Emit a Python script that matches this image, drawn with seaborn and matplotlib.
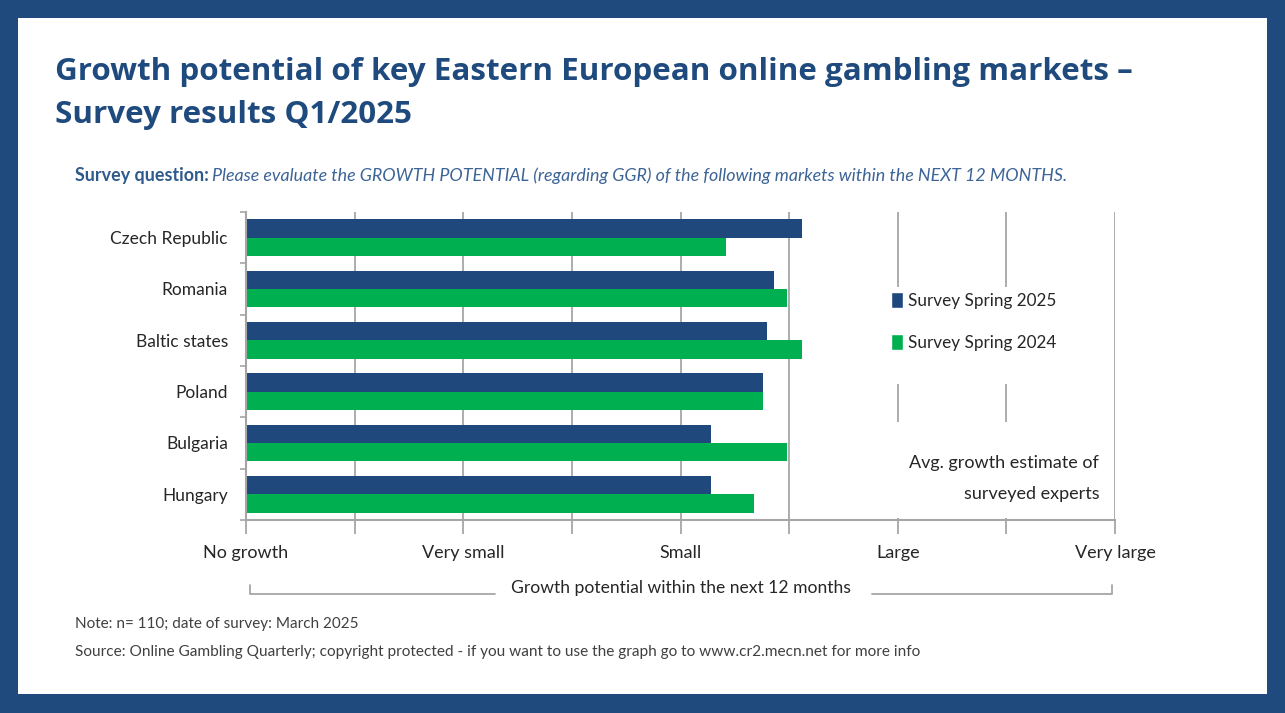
import numpy as np
import pandas as pd
import matplotlib
matplotlib.use("Agg")
import matplotlib.pyplot as plt
from matplotlib.patches import Rectangle
from matplotlib.lines import Line2D
import seaborn as sns

# chart data read off the survey graphic (0 = No growth ... 4 = Very large)
markets = ["Czech Republic", "Romania", "Baltic states", "Poland", "Bulgaria", "Hungary"]
spring_2025 = [2.56, 2.43, 2.40, 2.38, 2.14, 2.14]
spring_2024 = [2.21, 2.49, 2.56, 2.38, 2.49, 2.34]
series_names = ["Survey Spring 2025", "Survey Spring 2024"]
scale_labels = ["No growth", "Very small", "Small", "Large", "Very large"]

NAVY = "#1F4A7E"
BAR_BLUE = "#1F497D"
BAR_GREEN = "#00B050"
GRID = "#A6A6A6"
TXT = "#262626"

df = pd.DataFrame({
    "market": markets * 2,
    "value": spring_2025 + spring_2024,
    "survey": [series_names[0]] * len(markets) + [series_names[1]] * len(markets),
})

sns.set_style("white")
plt.rcParams["font.family"] = ["Lato", "DejaVu Sans"]

fig = plt.figure(figsize=(12.85, 7.13), dpi=100, facecolor=NAVY)
# white panel inside the navy frame
fig.patches.append(Rectangle((18 / 1285, 1 - 694 / 713), (1267 - 18) / 1285, (694 - 18) / 713,
                             transform=fig.transFigure, facecolor="white", edgecolor="none", zorder=-5))

fig.text(55 / 1285, 1 - 72 / 713,
         "Growth potential of key Eastern European online gambling markets \u2013",
         family="Open Sans", fontweight="bold", fontsize=22.6, color=NAVY, va="center")
fig.text(55 / 1285, 1 - 115 / 713, "Survey results Q1/2025",
         family="Open Sans", fontweight="bold", fontsize=22.6, color=NAVY, va="center")

# survey question: bold lead then italic text
q1 = fig.text(75 / 1285, 1 - 176 / 713, "Survey question:", fontsize=12.9,
              fontweight="bold", color="#2F5A8C", va="center")
fig.canvas.draw()
bb = q1.get_window_extent(renderer=fig.canvas.get_renderer())
fig.text(bb.x1 / 1285 + 3 / 1285, 1 - 176 / 713,
         "Please evaluate the GROWTH POTENTIAL (regarding GGR) of the following markets within the NEXT 12 MONTHS.",
         fontsize=12.9, style="italic", color="#3C6496", va="center")

ax = fig.add_axes([246 / 1285, 1 - 520 / 713, (1115 - 246) / 1285, (520 - 212) / 713])
ax.set_facecolor("none")

sns.barplot(data=df, x="value", y="market", hue="survey", orient="h",
            palette=[BAR_BLUE, BAR_GREEN], width=0.72, saturation=1, linewidth=0,
            order=markets, hue_order=series_names, ax=ax, zorder=3, legend=False)

ax.set_xlim(0, 4)
ax.set_ylim(5.42, -0.48)
ax.set_xticks(range(5))
ax.set_xticklabels(scale_labels, fontsize=13, color=TXT)
ax.set_xticks(np.arange(0.5, 4, 1), minor=True)
ax.tick_params(axis="x", which="both", bottom=True, length=10, width=1.3, color=GRID,
               pad=8, direction="out")
ax.set_yticks(range(len(markets)))
ax.set_yticklabels(markets, fontsize=12.5, color=TXT)
ax.set_yticks(np.arange(-0.5, len(markets), 1), minor=True)
ax.tick_params(axis="y", which="major", left=False, length=0, pad=13)
ax.tick_params(axis="y", which="minor", left=True, length=4, width=1.2, color=GRID)
ax.xaxis.grid(True, which="both", color=GRID, linewidth=1.3, zorder=0)
ax.set_axisbelow(True)
ax.set_xlabel("")
ax.set_ylabel("")
for s in ["top", "right"]:
    ax.spines[s].set_visible(False)
for s in ["left", "bottom"]:
    ax.spines[s].set_color(GRID)
    ax.spines[s].set_linewidth(1.5)
ax.spines["left"].set_zorder(4)

# white blocks behind legend and note, hiding the gridlines there
ax.add_patch(Rectangle((0.725, 0.44), 0.215, 0.315, transform=ax.transAxes,
                       facecolor="white", edgecolor="none", zorder=2))
ax.add_patch(Rectangle((0.735, 0.008), 0.245, 0.31, transform=ax.transAxes,
                       facecolor="white", edgecolor="none", zorder=2))

handles = [Rectangle((0, 0), 1, 1, facecolor=c) for c in [BAR_BLUE, BAR_GREEN]]
ax.legend(handles, series_names, loc="upper left", bbox_to_anchor=(0.725, 0.79),
          frameon=False, fontsize=12.3, handlelength=0.65, handleheight=1.1,
          handletextpad=0.3, labelspacing=1.45, labelcolor=TXT)

ax.text(0.982, (520 - 463) / 308, "Avg. growth estimate of", transform=ax.transAxes,
        ha="right", va="center", fontsize=13, color=TXT, zorder=5)
ax.text(0.982, (520 - 494) / 308, "surveyed experts", transform=ax.transAxes,
        ha="right", va="center", fontsize=13, color=TXT, zorder=5)

# axis caption with bracket lines
fig.text(681 / 1285, 1 - 588 / 713, "Growth potential within the next 12 months",
         ha="center", va="center", fontsize=12.6, color=TXT)
yb = 1 - 594 / 713
yt = 1 - 585 / 713
for xs, ys in [([250, 250, 495], [yt, yb, yb]), ([872, 1112, 1112], [yb, yb, yt])]:
    fig.add_artist(Line2D([x / 1285 for x in xs], ys, transform=fig.transFigure,
                          color=GRID, linewidth=1.3))

fig.text(75 / 1285, 1 - 624 / 713, "Note: n= 110; date of survey: March 2025",
         fontsize=11, color="#404040", va="center")
fig.text(75 / 1285, 1 - 652 / 713,
         "Source: Online Gambling Quarterly; copyright protected - if you want to use the graph go to www.cr2.mecn.net for more info",
         fontsize=11.1, color="#404040", va="center")

fig.savefig("out.png", dpi=100, facecolor=NAVY)
